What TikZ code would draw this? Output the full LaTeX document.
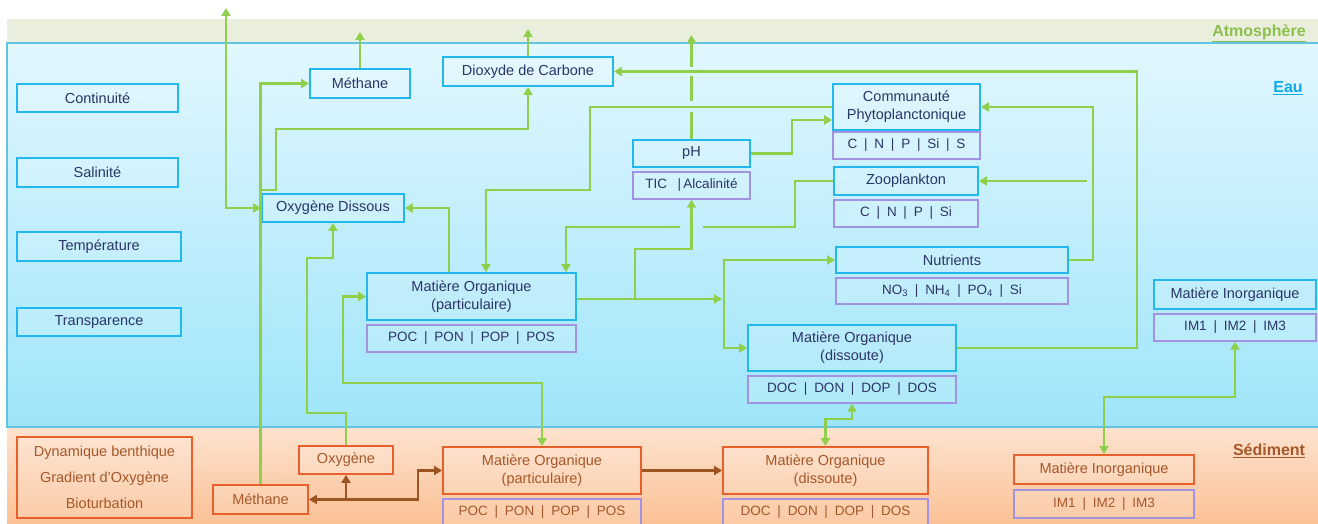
\documentclass[tikz,border=0pt]{standalone}
\usepackage{fontspec}
\setmainfont{Liberation Sans}
\usetikzlibrary{arrows.meta}
\usetikzlibrary{positioning}

\definecolor{flowgreen}{HTML}{8FCF4C}
\definecolor{sedbrown}{HTML}{9C5422}
\definecolor{boxblue}{HTML}{22B8EE}
\definecolor{subpurple}{HTML}{A193E2}
\definecolor{boxred}{HTML}{E8602C}
\definecolor{textblue}{HTML}{2B3566}
\definecolor{textbrown}{HTML}{A5582A}
\definecolor{atmogreen}{HTML}{8DBF4E}
\definecolor{eaublue}{HTML}{10A8E6}
\newcommand{\sep}{\enspace|\enspace}

\begin{document}
\begin{tikzpicture}[x=1pt,y=-1pt,
    wbox/.style={draw=boxblue,line width=1.8pt,fill=white,fill opacity=0.15,text opacity=1,
      text=textblue,font=\fontsize{14.5}{18}\selectfont,align=center,inner sep=0pt},
    subbox/.style={wbox,draw=subpurple,minimum height=27pt,font=\fontsize{13.5}{16}\selectfont},
    sbox/.style={wbox,draw=boxred,text=textbrown},
    ssub/.style={subbox,text=textbrown},
    tag/.style={font=\fontsize{16}{18}\selectfont\bfseries},
    flowline/.style={draw=flowgreen,line width=2.2pt},
    flow/.style={flowline,-{Triangle[length=8pt,width=9pt]}},
    flow2/.style={flowline,{Triangle[length=8pt,width=9pt]}-{Triangle[length=8pt,width=9pt]}},
    sflow/.style={draw=sedbrown,line width=2.2pt,-{Triangle[length=8pt,width=9pt]}}]
  \useasboundingbox (0,0) rectangle (1318,524);

  %layers
  \fill[color={rgb,255:red,234;green,238;blue,221}] (7,19) rectangle (1330,43);
  \shade[top color={rgb,255:red,226;green,247;blue,254},bottom color={rgb,255:red,158;green,229;blue,250}]
    (7,43) rectangle (1330,427);
  \draw[color={rgb,255:red,98;green,195;blue,227},line width=1.8pt] (7,43) rectangle (1330,427);
  \shade[top color={rgb,255:red,253;green,226;blue,206},bottom color={rgb,255:red,251;green,191;blue,146}]
    (7,428) rectangle (1330,530);
  \node[tag,text=atmogreen] (latm) at (1259,33) {\underline{Atmosphère}};
  \node[tag,text=eaublue] (leau) at (1288,88) {\underline{Eau}};
  \node[tag,text=textbrown] (lsed) at (1269,451) {\underline{Sédiment}};

  %water column
  \node[wbox,minimum width=161pt,minimum height=28pt] (cont) at (97.5,98) {Continuité};
  \node[wbox,minimum width=161pt,minimum height=29pt] (sal) at (97.5,172.5) {Salinité};
  \node[wbox,minimum width=164pt,minimum height=29pt] (temp) at (99,246.5) {Température};
  \node[wbox,minimum width=164pt,minimum height=28pt] (transp) at (99,322) {Transparence};
  \node[wbox,minimum width=100pt,minimum height=29pt] (ch4) at (360,83.5) {Méthane};
  \node[wbox,minimum width=170pt,minimum height=29pt] (co2) at (528,71.5) {Dioxyde de Carbone};
  \node[wbox,minimum width=142pt,minimum height=28pt] (od) at (333,208) {Oxygène Dissous};
  \node[wbox,minimum width=117pt,minimum height=27pt] (ph) at (691.5,153.5) {pH};
  \node[subbox,minimum width=117pt,below=3pt of ph] (phs) {TIC\enspace\ |\,Alcalinité};
  \node[wbox,minimum width=147pt,minimum height=46pt] (phyto) at (906.5,107) {Communauté\\Phytoplanctonique};
  \node[subbox,minimum width=147pt,below=0pt of phyto] (phytos) {C\sep N\sep P\sep Si\sep S};
  \node[wbox,minimum width=144pt,minimum height=28pt] (zoo) at (906,181) {Zooplankton};
  \node[subbox,minimum width=144pt,below=3pt of zoo] (zoos) {C\sep N\sep P\sep Si};
  \node[wbox,minimum width=232pt,minimum height=26pt] (nut) at (952,260) {Nutrients};
  \node[subbox,minimum width=232pt,minimum height=26pt,below=3pt of nut] (nuts)
    {NO\textsubscript{3}\sep NH\textsubscript{4}\sep PO\textsubscript{4}\sep Si};
  \node[wbox,minimum width=209pt,minimum height=47pt] (mop) at (471.5,296.5) {Matière Organique\\(particulaire)};
  \node[subbox,minimum width=209pt,below=3pt of mop] (mops) {POC\sep PON\sep POP\sep POS};
  \node[wbox,minimum width=208pt,minimum height=46pt] (mod) at (852,348) {Matière Organique\\(dissoute)};
  \node[subbox,minimum width=208pt,below=3pt of mod] (mods) {DOC\sep DON\sep DOP\sep DOS};
  \node[wbox,minimum width=162pt,minimum height=29pt] (mi) at (1235,294.5) {Matière Inorganique};
  \node[subbox,minimum width=162pt,below=3pt of mi] (mis) {IM1\sep IM2\sep IM3};

  %sediment
  \node[sbox,minimum width=175pt,minimum height=81pt,font=\fontsize{14.5}{26}\selectfont] (benth) at (104.5,477.5)
    {Dynamique benthique\\Gradient d'Oxygène\\Bioturbation};
  \node[sbox,minimum width=94pt,minimum height=28pt] (oxs) at (346,460) {Oxygène};
  \node[sbox,minimum width=95pt,minimum height=29pt] (ch4s) at (260.5,499.5) {Méthane};
  \node[sbox,minimum width=198pt,minimum height=47pt] (mops2) at (542,470.5) {Matière Organique\\(particulaire)};
  \node[ssub,minimum width=198pt,below=3pt of mops2] (mopss) {POC\sep PON\sep POP\sep POS};
  \node[sbox,minimum width=205pt,minimum height=47pt] (mods2) at (825.5,470.5) {Matière Organique\\(dissoute)};
  \node[ssub,minimum width=205pt,below=3pt of mods2] (modss) {DOC\sep DON\sep DOP\sep DOS};
  \node[sbox,minimum width=180pt,minimum height=29pt] (mis2) at (1104,469.5) {Matière Inorganique};
  \node[ssub,minimum width=180pt,minimum height=28pt,below=4pt of mis2] (miss) {IM1\sep IM2\sep IM3};

  %bends and free ends
  \coordinate (upO2) at (226,8);
  \coordinate (upCH4) at (360,32);
  \coordinate (upCO2) at (528,29);
  \coordinate (upPH) at (691.5,35);
  \coordinate (kCH4) at (261,190);
  \coordinate (kCO2) at (276,129);
  \coordinate (kLoop) at (1137,71.5);
  \coordinate (kNut) at (1093,107);
  \coordinate (kZoo) at (1087,181);
  \coordinate (kPH) at (792,120);
  \coordinate (kPhy) at (590,190);
  \coordinate (kZooA) at (795,227);
  \coordinate (kZooB) at (703,227);
  \coordinate (kZooC) at (680,227);
  \coordinate (kMop) at (724,299);
  \coordinate (kTic) at (635,299);
  \coordinate (kTicB) at (691.5,249);
  \coordinate (kOxA) at (307,413);
  \coordinate (kOxB) at (307,258);
  \coordinate (kSed) at (343,383);
  \coordinate (kDoc) at (825.5,419);
  \coordinate (kIm) at (1104,397);
  \coordinate (kBen) at (346,499.5);
  \coordinate (kBenB) at (418,470.5);

  %exchanges with the atmosphere
  \draw[flow2] (upO2) |- (od.west);
  \draw[flow] (ch4.north) -- (upCH4);
  \draw[flow] (co2.north) -- (upCO2);
  \draw[flow,dash pattern=on 27pt off 11pt on 25pt off 9pt on 60pt] (ph.north) -- (upPH);

  %water column flows
  \draw[flow] (ch4s.north) |- (ch4.west);
  \draw[flow] (kCH4) -| (kCO2) -| (co2.south);
  \draw[flow] (mod.east) -| (kLoop) -- (co2.east);
  \draw[flow] (nut.east) -| (kNut) -- (phyto.east);
  \draw[flow] (kZoo) -- (zoo.east);
  \draw[flow] (ph.east) -| (kPH) -- (kPH -| phyto.west);
  \draw[flow] (phyto.west) -| (kPhy) -| ([xshift=14.5pt]mop.north);
  \draw[flowline] (zoo.west) -| (kZooA) -- (kZooB);
  \draw[flow] (kZooC) -| ([xshift=94.5pt]mop.north);
  \draw[flow,shorten >=2pt] (mop.east |- kMop) -- (kMop);
  \draw[flow] (kMop) |- (nut.west);
  \draw[flow] (kMop) |- (mod.west);
  \draw[flow] (kTic) |- (kTicB) -- (phs.south);
  \draw[flow] ([xshift=-22.5pt]mop.north) |- (od.east);
  \draw[flow] (oxs.north) |- (kOxA) -- (kOxB) -| (od.south);

  %water - sediment exchanges
  \draw[flow2] (mop.west) -| (kSed) -| (mops2.north);
  \draw[flow2] (mods.south) |- (kDoc) -- (mods2.north);
  \draw[flow2] (mis.south) |- (kIm) -- (mis2.north);

  %inside the sediment
  \draw[sflow] (kBen) -- (ch4s.east);
  \draw[sflow] (kBen) -- (oxs.south);
  \draw[sflow] (kBen) -| (kBenB) -- (mops2.west);
  \draw[sflow] (mops2.east) -- (mods2.west);
\end{tikzpicture}
\end{document}
